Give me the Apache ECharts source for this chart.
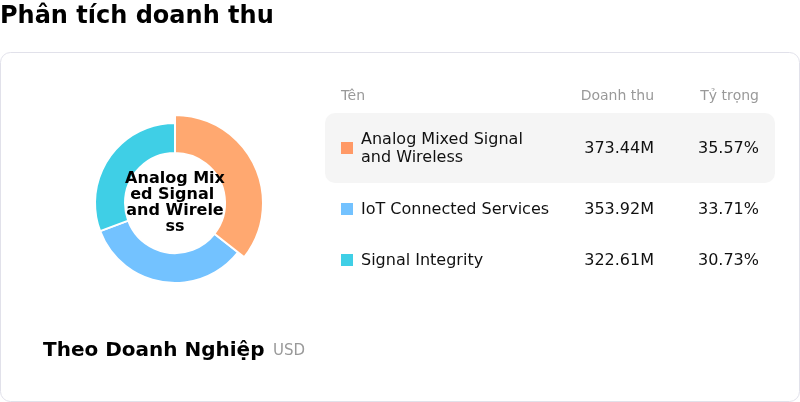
<!DOCTYPE html>
<html>
<head>
<meta charset="utf-8">
<title>Phân tích doanh thu</title>
<script src="https://cdn.jsdelivr.net/npm/echarts@6/dist/echarts.min.js"></script>
<style>
  html, body { margin: 0; padding: 0; background: #fff; }
  #chart { width: 800px; height: 402px; }
</style>
</head>
<body>
<div id="chart"></div>
<script>
  // dữ liệu
  const names = ['Analog Mixed Signal and Wireless', 'IoT Connected Services', 'Signal Integrity'];
  const rowLabels = ['Analog Mixed Signal\nand Wireless', 'IoT Connected Services', 'Signal Integrity'];
  const revenue = [373.44, 353.92, 322.61];
  const shareLabels = ['35.57%', '33.71%', '30.73%'];
  const colors = ['#FF9966', '#73C2FF', '#3FCFE6'];
  const headers = ['Tên', 'Doanh thu', 'Tỷ trọng'];

  const FONT = '"DejaVu Sans", sans-serif';
  const rowY = [149, 210, 261];

  const chart = echarts.init(document.getElementById('chart'), null, { renderer: 'canvas' });

  // bảng chú giải bên phải
  const tableEls = [
    { type: 'rect', shape: { x: 325, y: 113, width: 450, height: 70, r: 10 }, style: { fill: '#f5f5f5' } },
    { type: 'text', x: 341, y: 96, style: { text: headers[0], font: '14px ' + FONT, fill: '#999', verticalAlign: 'middle' } },
    { type: 'text', x: 654, y: 96, style: { text: headers[1], font: '14px ' + FONT, fill: '#999', align: 'right', verticalAlign: 'middle' } },
    { type: 'text', x: 759, y: 96, style: { text: headers[2], font: '14px ' + FONT, fill: '#999', align: 'right', verticalAlign: 'middle' } }
  ];
  names.forEach((n, i) => {
    const y = rowY[i];
    tableEls.push(
      { type: 'rect', shape: { x: 341, y: y - 7, width: 12, height: 12 }, style: { fill: colors[i] } },
      { type: 'text', x: 361, y: y, style: { text: rowLabels[i], font: '16px ' + FONT, fill: '#111', verticalAlign: 'middle', lineHeight: 18 } },
      { type: 'text', x: 654, y: y, style: { text: revenue[i].toFixed(2) + 'M', font: '16px ' + FONT, fill: '#111', align: 'right', verticalAlign: 'middle' } },
      { type: 'text', x: 759, y: y, style: { text: shareLabels[i], font: '16px ' + FONT, fill: '#111', align: 'right', verticalAlign: 'middle' } }
    );
  });

  const option = {
    animation: false,
    graphic: [
      { type: 'rect', z: -10, shape: { x: 0.5, y: 52.5, width: 799, height: 349, r: 10 }, style: { fill: '#fff', stroke: '#e1e1ea', lineWidth: 1 } },
      { type: 'text', x: 0, y: 17, style: { text: 'Phân tích doanh thu', font: 'bold 24px ' + FONT, fill: '#000', verticalAlign: 'middle' } },
      { type: 'text', x: 43, y: 351, style: { text: 'Theo Doanh Nghiệp', font: 'bold 20px ' + FONT, fill: '#000', verticalAlign: 'middle' } },
      { type: 'text', x: 273, y: 351, style: { text: 'USD', font: '15px ' + FONT, fill: '#999', verticalAlign: 'middle' } }
    ].concat(tableEls),
    series: [
      {
        type: 'pie',
        center: [175, 203],
        radius: [50, 80],
        startAngle: 90,
        clockwise: true,
        avoidLabelOverlap: false,
        itemStyle: { borderColor: '#fff', borderWidth: 2 },
        label: { show: false, position: 'center' },
        labelLine: { show: false },
        emphasis: {
          scale: true,
          scaleSize: 8,
          label: {
            show: true,
            formatter: '{b}',
            fontFamily: FONT,
            fontSize: 16,
            fontWeight: 'bold',
            color: '#000',
            width: 100,
            overflow: 'breakAll',
            lineHeight: 16
          }
        },
        data: names.map((n, i) => ({ name: n, value: revenue[i], itemStyle: { color: colors[i] } }))
      }
    ]
  };
  chart.setOption(option);
  chart.dispatchAction({ type: 'highlight', seriesIndex: 0, dataIndex: 0 });
</script>
</body>
</html>
